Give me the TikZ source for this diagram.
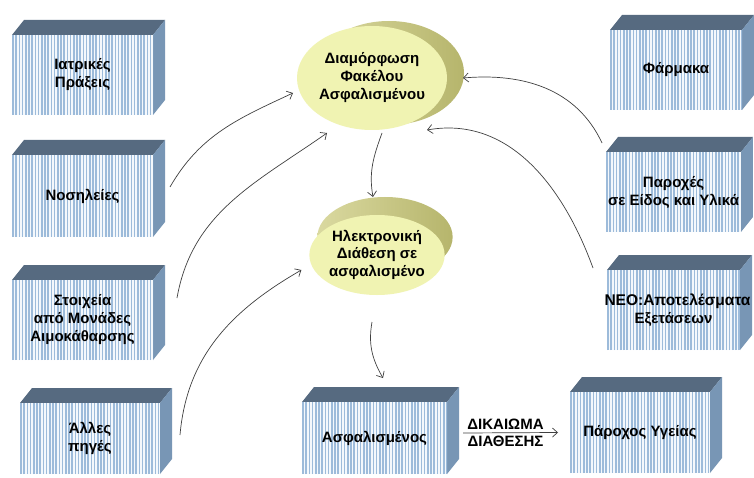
\documentclass[tikz,border=0pt]{standalone}
\usepackage{fontspec}
\setmainfont{Liberation Sans}[BoldFont={Liberation Sans Bold}]
\usetikzlibrary{shapes.geometric, arrows.meta, shadows, backgrounds}
\definecolor{slabtop}{HTML}{566A80}
\definecolor{slabside}{HTML}{7896B5}
\definecolor{stripe}{HTML}{9DBBDA}
\definecolor{slabface}{HTML}{F4F8FC}
\definecolor{discface}{HTML}{F0F3B2}
\definecolor{disclight}{HTML}{DAD9A0}
\definecolor{discdark}{HTML}{B6B56C}
\definecolor{linkgray}{HTML}{404040}
\tikzset{
  txt/.style={font=\bfseries\fontsize{15}{18}\selectfont},
  slab/.style={rectangle, fill=slabface, inner sep=2pt, outer sep=0pt, align=center, txt,
    path picture={\foreach \k in {0,...,46}
      \draw[stripe, line width=1.7pt] ([xshift=\k*3.2pt+1pt]path picture bounding box.south west)
        -- ([xshift=\k*3.2pt+1pt]path picture bounding box.north west);}},
  disc/.style={ellipse, fill=discface, inner sep=0pt, outer sep=0pt, align=center, txt},
  link/.style={draw=linkgray, line width=0.7pt, -{Straight Barb[length=5pt,width=9pt]}}
}
\begin{document}
\begin{tikzpicture}[x=1pt, y=1pt]
    \useasboundingbox (0,0) rectangle (754,477);
    % left column
    \node[slab, minimum width=141, minimum height=80] (iatr) at (82.5,402) {Ιατρικές\\Πράξεις};
    \node[slab, minimum width=141, minimum height=82] (nosil) at (82.5,281) {Νοσηλείες};
    \node[slab, minimum width=141, minimum height=80] (stoix) at (82.5,157) {Στοιχεία\\από Μονάδες\\Αιμοκάθαρσης};
    \node[slab, minimum width=140, minimum height=71] (alles) at (90,38.5) {Άλλες\\πηγές};
    % right column
    \node[slab, minimum width=132, minimum height=80] (farm) at (676,407) {Φάρμακα};
    \node[slab, minimum width=133, minimum height=80] (paro) at (673.5,285) {Παροχές\\σε Είδος και Υλικά};
    \node[slab, minimum width=133, minimum height=80] (neo) at (673.5,167)
      {\makebox[0pt]{\hspace{8pt}\resizebox{146pt}{!}{ΝΕΟ:Αποτελέσματα}}\\Εξετάσεων};
    % bottom row
    \node[slab, minimum width=145, minimum height=72] (asfal) at (374.5,39) {Ασφαλισμένος};
    \node[slab, minimum width=140, minimum height=81] (paroxos) at (640,44.5) {Πάροχος Υγείας};
    \begin{scope}[on background layer]
      \fill[white] (0,0) rectangle (754,477);
      \foreach \n in {iatr,nosil,stoix,alles,farm,paro,neo,asfal,paroxos} {
        \fill[slabtop] (\n.north west) -- ++(12,15) -- ([shift={(12,15)}]\n.north east) -- (\n.north east) -- cycle;
        \fill[slabside] (\n.north east) -- ++(12,15) -- ([shift={(12,15)}]\n.south east) -- (\n.south east) -- cycle;
      }
    \end{scope}
    % discs
    \node[disc, minimum width=150, minimum height=104,
      general shadow={shadow xshift=17pt, shadow yshift=5pt, left color=disclight, right color=discdark}]
      (form) at (372,399) {Διαμόρφωση\\Φακέλου\\Ασφαλισμένου};
    \node[disc, minimum width=134, minimum height=80,
      general shadow={shadow xshift=8pt, shadow yshift=18pt, left color=disclight, right color=discdark}]
      (elec) at (377,222) {\raisebox{-8pt}{\shortstack{Ηλεκτρονική\\Διάθεση σε\\ασφαλισμένο}}};
    % arrows
    \draw[link] ([shift={(17,9)}]nosil.east) to[out=60,in=205] ([shift={(-4,-15)}]form.west);
    \draw[link] ([shift={(24,22)}]stoix.east) to[out=80,in=215] ([shift={(-45,-3)}]form.south);
    \draw[link] ([shift={(20,3.5)}]alles.east) to[out=85,in=210] ([shift={(-8,-15)}]elec.west);
    \draw[link] ([shift={(10,-3)}]form.south) to[out=250,in=100] ([shift={(-4,18)}]elec.north);
    \draw[link] ([shift={(-5,-27)}]elec.south) to[out=260,in=120] ([shift={(8.5,24)}]asfal.north);
    \draw[link] ([shift={(-4,9)}]paro.north west) to[out=115,in=5] ([shift={(16,0)}]form.east);
    \draw[link] ([shift={(-14,2)}]neo.north west) to[out=110,in=10] ([shift={(55,0)}]form.south);
    \draw[link] ([shift={(16,5)}]asfal.east) -- node[above, txt, xshift=-5]{ΔΙΚΑΙΩΜΑ}
      node[below, txt, xshift=-5]{ΔΙΑΘΕΣΗΣ} ([shift={(-12,0)}]paroxos.west);
\end{tikzpicture}
\end{document}
